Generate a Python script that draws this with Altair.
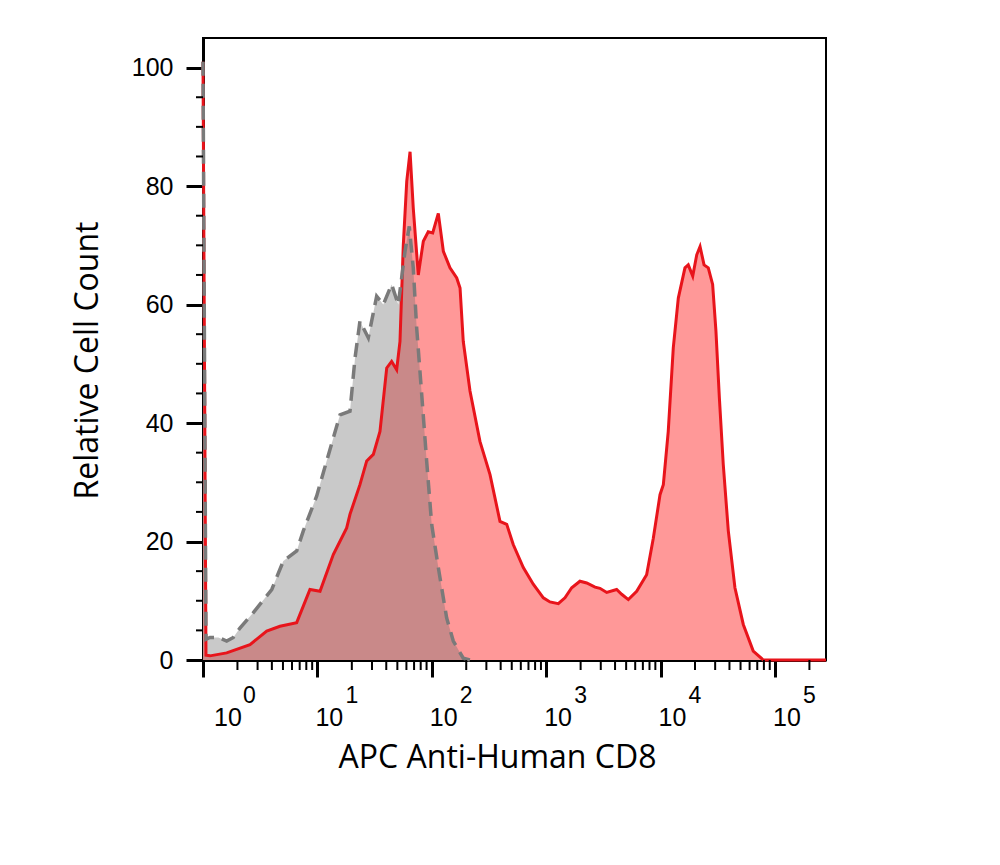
import math
import altair as alt
import pandas as pd

# ---- data (x in decades: log10 of APC intensity) ----
red_log_x = [0.000, 0.026, 0.061, 0.207, 0.411, 0.557, 0.673, 0.819, 0.935, 1.023,
             1.139, 1.256, 1.285, 1.372, 1.431, 1.489, 1.547, 1.606, 1.649, 1.693,
             1.722, 1.751, 1.781, 1.810, 1.838, 1.882, 1.926, 1.969, 2.008, 2.057,
             2.101, 2.159, 2.218, 2.247, 2.275, 2.334, 2.421, 2.509, 2.596, 2.655,
             2.712, 2.800, 2.887, 2.975, 3.033, 3.106, 3.164, 3.223, 3.295, 3.354,
             3.427, 3.470, 3.529, 3.616, 3.660, 3.718, 3.791, 3.878, 3.936, 3.995,
             4.024, 4.067, 4.111, 4.155, 4.213, 4.242, 4.281, 4.316, 4.345, 4.380,
             4.417, 4.455, 4.484, 4.514, 4.548, 4.592, 4.650, 4.723, 4.810, 4.898,
             5.446]
red_count = [101.0, 0.8, 0.7, 1.2, 2.6, 4.9, 5.7, 6.3, 11.9, 11.6,
             17.8, 22.3, 24.6, 29.6, 33.6, 34.7, 38.6, 49.3, 50.4, 49.0,
             53.8, 70.1, 80.8, 85.8, 76.3, 65.0, 70.7, 72.3, 72.1, 75.4,
             69.0, 66.2, 64.5, 62.8, 53.8, 45.4, 36.9, 31.3, 23.4, 22.9,
             19.5, 15.6, 12.8, 10.5, 9.8, 9.5, 10.5, 12.2, 13.3, 13.0,
             12.3, 12.1, 11.4, 11.9, 11.1, 10.2, 11.6, 14.4, 20.5, 27.9,
             29.6, 38.6, 52.7, 61.1, 66.2, 66.7, 64.8, 68.4, 69.8, 66.7,
             66.2, 63.4, 55.5, 44.2, 33.0, 21.8, 12.2, 6.0, 1.5, 0.0,
             0.0]

gray_log_x = [0.000, 0.026, 0.061, 0.134, 0.207, 0.265, 0.323, 0.440, 0.601, 0.702,
              0.819, 0.877, 0.994, 1.081, 1.198, 1.285, 1.329, 1.372, 1.445, 1.518,
              1.576, 1.649, 1.707, 1.766, 1.803, 1.838, 1.868, 1.912, 1.955, 1.999,
              2.057, 2.130, 2.188, 2.275, 2.334]
gray_count = [101.0, 3.5, 3.8, 3.8, 3.2, 3.8, 5.4, 8.0, 11.9, 16.7,
              18.4, 21.8, 27.7, 33.6, 41.4, 42.0, 51.0, 57.2, 54.4, 61.4,
              60.0, 63.4, 60.0, 69.0, 73.2, 66.2, 56.0, 44.8, 33.6, 22.9,
              15.6, 7.1, 3.2, 0.3, 0.0]

x_decades = [0, 1, 2, 3, 4, 5]
x_exponents = ["0", "1", "2", "3", "4", "5"]
y_major = [0, 20, 40, 60, 80, 100]
y_minor = [5, 10, 15, 25, 30, 35, 45, 50, 55, 65, 70, 75, 85, 90, 95]

W, H = 623, 622
X_MAX = 5.446
Y_MAX = 105

red = pd.DataFrame({"x": red_log_x, "y": red_count})
gray = pd.DataFrame({"x": gray_log_x, "y": gray_count})
minor_x = pd.DataFrame({"x": [d + math.log10(k) for d in x_decades for k in range(2, 10)
                              if d + math.log10(k) <= X_MAX]})
minor_y = pd.DataFrame({"y": y_minor})
labels = pd.DataFrame({"x": x_decades, "e": x_exponents})

xs = alt.Scale(domain=[0, X_MAX], nice=False, zero=False)
ys = alt.Scale(domain=[0, Y_MAX], nice=False, zero=False)

x_axis = alt.Axis(values=x_decades, labels=False, tickSize=17, tickWidth=3,
                  tickColor="black", domainColor="black", domainWidth=3, grid=False,
                  title="APC Anti-Human CD8", titleFont="Open Sans", titleFontSize=32,
                  titleFontWeight="normal", titleColor="black", titleX=294, titleY=107,
                  titleBaseline="alphabetic", titleAlign="center")
y_axis = alt.Axis(values=y_major, tickSize=17, tickWidth=3, tickColor="black",
                  domainColor="black", domainWidth=3, grid=False,
                  labelFont="Liberation Sans", labelFontSize=25, labelColor="black",
                  labelPadding=13,
                  title="Relative Cell Count", titleFont="Open Sans", titleFontSize=32,
                  titleFontWeight="normal", titleColor="black", titleX=-106, titleY=322,
                  titleBaseline="alphabetic", titleAlign="center", titleAngle=270)

X = lambda: alt.X("x:Q", scale=xs, axis=x_axis)
Y = lambda: alt.Y("y:Q", scale=ys, axis=y_axis)

red_area = alt.Chart(red).mark_area(color="#FF9898", opacity=1).encode(x=X(), y=Y())
gray_area = alt.Chart(gray).mark_area(color="#707070", opacity=0.38).encode(x=X(), y=Y())
red_line = alt.Chart(red).mark_line(color="#E8141B", strokeWidth=3).encode(x=X(), y=Y())
gray_line = alt.Chart(gray).mark_line(color="#7A7A7A", strokeWidth=3.5, strokeDash=[14, 8]).encode(x=X(), y=Y())

xminor = alt.Chart(minor_x).mark_rule(color="black", strokeWidth=2).encode(
    x=X(), y=alt.value(H), y2=alt.value(H + 10))
yminor = alt.Chart(minor_y).mark_rule(color="black", strokeWidth=2).encode(
    y=Y(), x=alt.value(-7), x2=alt.value(0))

lab_base = alt.Chart(labels)
ten_first = lab_base.transform_filter("datum.x == 0").mark_text(
    text="10", align="left", baseline="alphabetic", font="Liberation Sans", fontSize=25,
    color="black", dx=11).encode(x=X(), y=alt.value(688))
ten_rest = lab_base.transform_filter("datum.x > 0").mark_text(
    text="10", align="left", baseline="alphabetic", font="Liberation Sans", fontSize=25,
    color="black", dx=-2).encode(x=X(), y=alt.value(688))
exp_first = lab_base.transform_filter("datum.x == 0").mark_text(
    align="left", baseline="alphabetic", font="Liberation Sans", fontSize=23,
    color="black", dx=40).encode(x=X(), y=alt.value(665), text="e:N")
exp_rest = lab_base.transform_filter("datum.x > 0").mark_text(
    align="left", baseline="alphabetic", font="Liberation Sans", fontSize=23,
    color="black", dx=28).encode(x=X(), y=alt.value(665), text="e:N")

chart = alt.layer(
    red_area, gray_area, red_line, gray_line, xminor, yminor,
    ten_first, ten_rest, exp_first, exp_rest
).properties(
    width=W, height=H,
    padding={"left": 195, "top": 30, "right": 150, "bottom": 150},
    autosize=alt.AutoSizeParams(type="none"),
    background="white",
).configure_view(stroke="black", strokeWidth=2)

chart.save("out.html", embed_options={"renderer": "svg", "actions": False})
